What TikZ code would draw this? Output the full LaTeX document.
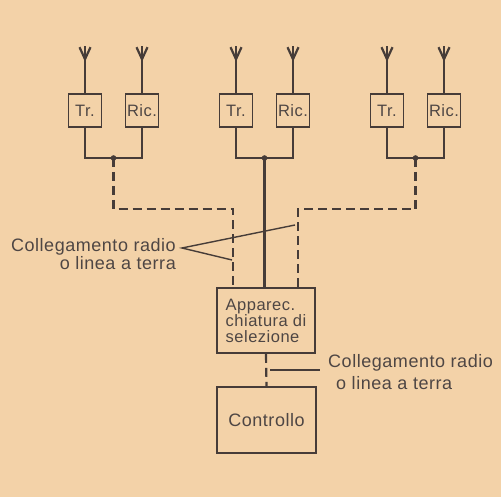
\documentclass[tikz,border=0pt]{standalone}
\usepackage{fontspec}
\setmainfont{Liberation Sans}[LetterSpace=3]
\usepackage{tikz}
\usetikzlibrary{calc}
\definecolor{paper}{RGB}{243,210,168}
\definecolor{ink}{RGB}{70,60,56}
\definecolor{inktext}{RGB}{78,70,68}

\begin{document}
\begin{tikzpicture}[x=1pt,y=-1pt,
    box/.style={draw=ink, line width=1.6pt, minimum width=33pt, minimum height=33pt,
      inner sep=0pt, text=inktext, font=\fontsize{16.5}{16}\selectfont},
    wire/.style={ink, line width=2.2pt},
    radio/.style={wire, dash pattern=on 9pt off 5pt},
    pointer/.style={ink, line width=1.4pt},
    lbl/.style={text=inktext, inner sep=0pt}]

    \fill[paper] (0,0) rectangle (501,497);
    \useasboundingbox (0,0) rectangle (501,497);

    % stations with their antennas
    \foreach \i/\x in {1/85, 2/236, 3/387} {
        \node[box] (tr\i) at (\x,110.5) {Tr.};
        \node[box] (ric\i) at (\x+57,110.5) {Ric.};
        \coordinate (j\i) at (\x+28.5,158);
        \foreach \a in {tr\i,ric\i} {
            \draw[wire] (\a.north) -- ++(0,-47);
            \draw[wire, shift={(\a.north)}] (-5.5,-46) -- (0,-34) -- (5.5,-46);
        }
        \draw[wire] (tr\i.south) |- (j\i) -| (ric\i.south);
        \fill[ink] (j\i) circle (2.8);
    }

    % selection and control
    \node[box, minimum width=98pt, minimum height=65pt, align=left] (sel) at (266,320.5)
        {Apparec.\\chiatura di\\selezione};
    \node[box, minimum width=99pt, minimum height=66pt, font=\fontsize{18}{18}\selectfont] (ctrl)
        at (266.5,420) {Controllo};

    % links
    \coordinate (bend) at (0,209);
    \coordinate (selL) at ($(sel.north)+(-33,0)$);
    \coordinate (selR) at ($(sel.north)+(32,0)$);
    \draw[radio] (j1) -- (j1 |- bend) -| (selL);
    \draw[radio] (j3) -- (j3 |- bend) -| (selR);
    \draw[wire] (j2) -- (j2 |- sel.north);
    \draw[radio] (sel.south) -- (ctrl.north);

    % labels
    \node[lbl, anchor=east, align=right, font=\fontsize{18}{16}\selectfont] (lab1) at (176,254)
        {Collegamento radio\\o linea a terra};
    \coordinate (p1) at (295,225);
    \coordinate (p2) at (232,260);
    \draw[pointer] (p1) -- ($(lab1.east)+(6,-6)$) -- (p2);

    \node[lbl, anchor=west, align=left, font=\fontsize{18}{22}\selectfont] (lab2) at (328,372.5)
        {Collegamento radio\\\hspace*{8pt}o linea a terra};
    \coordinate (q) at (270,370);
    \draw[pointer] (q) -- ($(lab2.west)+(-8,-2.5)$);
\end{tikzpicture}
\end{document}
